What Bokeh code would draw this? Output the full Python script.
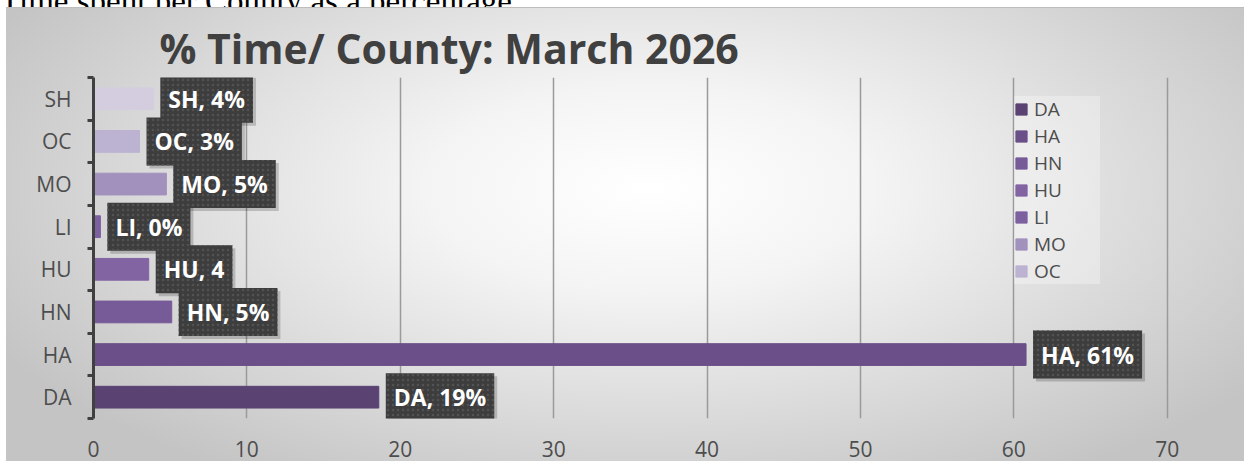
from bokeh.plotting import figure
from bokeh.models import FixedTicker, Legend, LegendItem, ColumnDataSource, Div
from bokeh.layouts import column
from bokeh.embed import file_html
from bokeh.resources import INLINE
from bokeh.core.properties import value

# ---- data ----
counties = ["DA", "HA", "HN", "HU", "LI", "MO", "OC", "SH"]
percent = [18.6, 60.8, 5.1, 3.6, 0.45, 4.75, 3.0, 3.9]
data_labels = ["DA, 19%", "HA, 61%", "HN, 5%", "HU, 4", "LI, 0%", "MO, 5%", "OC, 3%", "SH, 4%"]
bar_colors = ["#5a4272", "#6a4f88", "#765b98", "#8264a3", "#7d60a0", "#a291bd", "#bcb2d1", "#d4cde0"]
legend_counties = ["DA", "HA", "HN", "HU", "LI", "MO", "OC"]
x_tick_values = [0, 10, 20, 30, 40, 50, 60, 70]
chart_title = "% Time/ County: March 2026"
doc_heading = "Time spent per County as a percentage:"

ypos = list(range(len(counties)))
source = ColumnDataSource(dict(y=ypos, x=percent, name=counties, text=data_labels, color=bar_colors))

FONT = "Open Sans"
TXT = "#4d4d4d"

# document heading strip above the chart (only its lower part shows, as in the reference)
heading = Div(text=('<div style="font-family:\'Liberation Serif\',\'Times New Roman\',serif;font-size:33px;'
                    'line-height:33px;margin-top:-26px;white-space:nowrap;color:#000;">' + doc_heading + '</div>'),
              width=1244, height=7, margin=0,
              styles={"overflow": "hidden", "background": "#ffffff"})

p = figure(width=1244, height=454, output_backend="svg", toolbar_location=None,
           x_range=(0, 72.5), y_range=(-0.5, len(counties) - 0.5),
           min_border_left=93, min_border_right=39, min_border_top=70, min_border_bottom=43,
           margin=0)

p.styles = {"background": ("linear-gradient(#bdbdbd, #bdbdbd) 6px 0px / 1238px 1px no-repeat, "
                           "radial-gradient(ellipse 60% 75% at 52% 40%, #ffffff 0%, #f4f4f4 30%, #c4c4c4 100%) "
                           "6px 0px / 1238px 454px no-repeat, #ffffff")}
p.border_fill_alpha = 0
p.background_fill_alpha = 0
p.outline_line_color = None

# title
p.title.text = chart_title
p.title.text_font = FONT
p.title.text_font_style = "bold"
p.title.text_font_size = "41px"
p.title.text_color = "#404040"
p.title.align = "left"
p.title.offset = 66
p.title.standoff = 4

# bars
bars = p.hbar(y="y", right="x", left=0, height=0.51, color="color", source=source)

# label shadows
p.text(x="x", y="y", text="text", source=source, x_offset=10, y_offset=3,
       text_align="left", text_baseline="middle", text_font=value(FONT), text_font_style="bold",
       text_font_size="23px", text_alpha=0, background_fill_color="black", background_fill_alpha=0.18,
       padding=8)
# labels
p.text(x="x", y="y", text="text", source=source, x_offset=7,
       text_align="left", text_baseline="middle", text_font=value(FONT), text_font_style="bold",
       text_font_size="23px", text_color="white", background_fill_color="#3d3d3d",
       background_hatch_pattern="dot", background_hatch_color="#525252", background_hatch_scale=5,
       background_hatch_weight=1, padding=8)

# axes
p.xaxis.ticker = FixedTicker(ticks=x_tick_values)
p.xaxis.axis_line_color = None
p.xaxis.major_tick_line_color = None
p.xaxis.minor_tick_line_color = None
p.xaxis.major_label_standoff = 16
p.xaxis.major_label_text_font = FONT
p.xaxis.major_label_text_font_size = "21px"
p.xaxis.major_label_text_color = TXT

p.yaxis.ticker = FixedTicker(ticks=ypos, minor_ticks=[i - 0.5 for i in range(len(counties) + 1)])
p.yaxis.major_label_overrides = {i: c for i, c in zip(ypos, counties)}
p.yaxis.axis_line_color = "#404040"
p.yaxis.axis_line_width = 3
p.yaxis.major_tick_line_color = None
p.yaxis.major_tick_out = 0
p.yaxis.major_tick_in = 0
p.yaxis.minor_tick_line_color = "#404040"
p.yaxis.minor_tick_line_width = 3
p.yaxis.minor_tick_out = 6
p.yaxis.minor_tick_in = 0
p.yaxis.major_label_standoff = 16
p.yaxis.major_label_text_font = FONT
p.yaxis.major_label_text_font_size = "21px"
p.yaxis.major_label_text_color = TXT

p.xgrid.grid_line_color = "#9a9a9a"
p.xgrid.grid_line_width = 1.5
p.ygrid.grid_line_color = None

legend = Legend(items=[LegendItem(label=c, renderers=[bars], index=counties.index(c)) for c in legend_counties],
                location=(921, 134), padding=6, spacing=1, label_height=20, label_width=66,
                glyph_height=14, glyph_width=14,
                label_standoff=6, label_text_font=FONT, label_text_font_size="19px", label_text_color=TXT,
                background_fill_color="white", background_fill_alpha=0.3, border_line_color=None, margin=0)
p.add_layout(legend)

layout = column(heading, p, spacing=0, margin=0)
open("out.html", "w").write(file_html(layout, INLINE))
